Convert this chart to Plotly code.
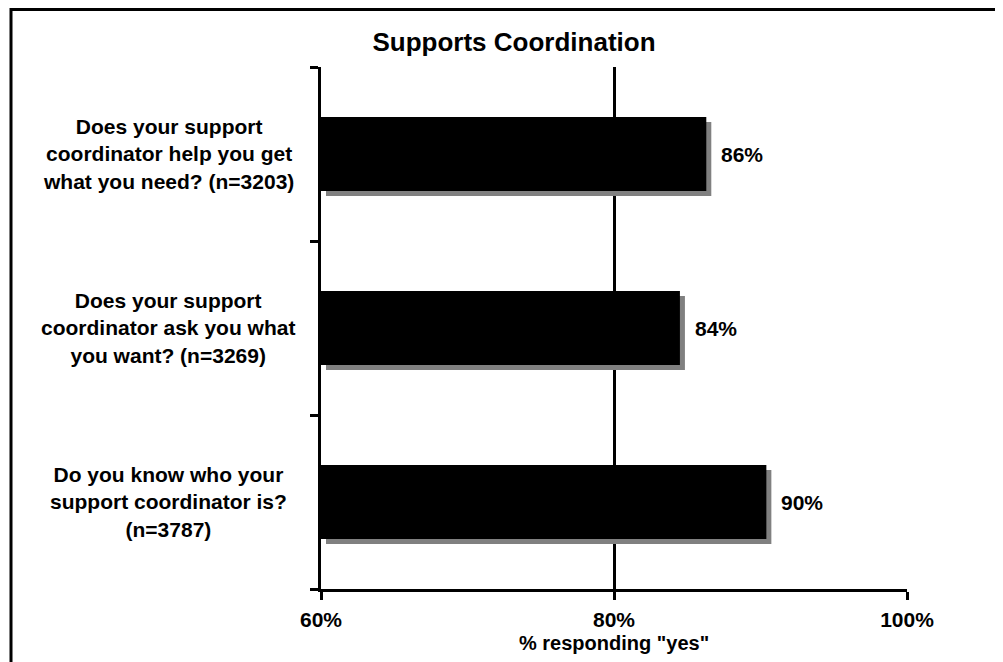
import plotly.graph_objects as go

categories = [
    "Does your support<br>coordinator help you get<br>what you need? (n=3203)",
    "Does your support<br>coordinator ask you what<br>you want? (n=3269)",
    "Do you know who your<br>support coordinator is?<br>(n=3787)",
]
values = [86.3, 84.5, 90.4]
value_labels = ["86%", "84%", "90%"]
x_ticks = [60, 80, 100]
x_tick_labels = ["60%", "80%", "100%"]
x_title = "% responding \"yes\""

FONT = "Liberation Sans"
W, H = 1003, 662
# page body margin shifts the figure by 8px; layout computed in figure pixels
L, T = 313, 59
PR, PB = 899, 581
R, B = W - PR, H - PB
pw, ph = PR - L, PB - T

xs = pw / 40.0  # px per percent
ys = ph / 3.0   # px per category

SH_X = 5 / xs
SH_Y = 5 / ys
BW = 0.425

fig = go.Figure()
ids = list(range(len(categories)))
boundaries = [i - 0.5 for i in range(len(categories) + 1)]
# shadow
fig.add_trace(go.Bar(
    y=ids, x=[v - 60 for v in values], base=60 + SH_X, orientation="h",
    width=BW, offset=-BW / 2 + SH_Y, marker=dict(color="#808080", line=dict(width=0)),
    hoverinfo="skip", showlegend=False, cliponaxis=True))
# main bars
fig.add_trace(go.Bar(
    y=ids, x=[v - 60 for v in values], base=60, orientation="h",
    width=BW, offset=-BW / 2, marker=dict(color="black", line=dict(width=0)),
    textposition="none", showlegend=False))

for i, (v, lab) in enumerate(zip(values, value_labels)):
    fig.add_annotation(x=v, y=i, xref="x", yref="y", text=f"<b>{lab}</b>",
                       showarrow=False, xanchor="left", xshift=13,
                       font=dict(family=FONT, size=21, color="black"))

for i, c in enumerate(categories):
    fig.add_annotation(x=(160 - L) / pw, y=i, xref="paper", yref="y",
                       text=f"<b>{c}</b>", showarrow=False, align="center",
                       xanchor="center", yanchor="middle",
                       font=dict(family=FONT, size=21, color="black"))

# x-axis title
fig.add_annotation(x=0.5, y=-(635 - PB) / ph, xref="paper", yref="paper",
                   text=f"<b>{x_title}</b>", showarrow=False,
                   xanchor="center", yanchor="middle",
                   font=dict(family=FONT, size=20, color="black"))

fig.add_shape(type="rect", xref="paper", yref="paper",
              x0=(3 - L) / pw, x1=(993 - L) / pw,
              y0=-(H + 20 - PB) / ph, y1=1 + (T - 1.5) / ph,
              line=dict(color="black", width=3), layer="below")

fig.update_layout(
    width=W, height=H, margin=dict(l=L, r=R, t=T, b=B, autoexpand=False),
    paper_bgcolor="white", plot_bgcolor="white", barmode="overlay",
    title=dict(text="<b>Supports Coordination</b>", x=506 / W, xanchor="center",
               y=1 - 34 / H, yanchor="middle",
               font=dict(family=FONT, size=26, color="black")),
    xaxis=dict(range=[60, 100], tickvals=x_ticks, ticktext=[f"<b>{t}</b>" for t in x_tick_labels],
               showgrid=True, gridcolor="black", gridwidth=3, zeroline=False,
               showline=True, linecolor="black", linewidth=3,
               ticks="outside", ticklen=8, tickwidth=3, tickcolor="black",
               ticklabelstandoff=2, automargin=False,
               tickfont=dict(family=FONT, size=21, color="black")),
    yaxis=dict(range=[2.5, -0.5], tickvals=boundaries, showticklabels=False,
               showgrid=False, zeroline=False, showline=True, linecolor="black",
               linewidth=3, ticks="outside", ticklen=8, tickwidth=3,
               tickcolor="black", automargin=False),
)

fig.write_html("out.html")
